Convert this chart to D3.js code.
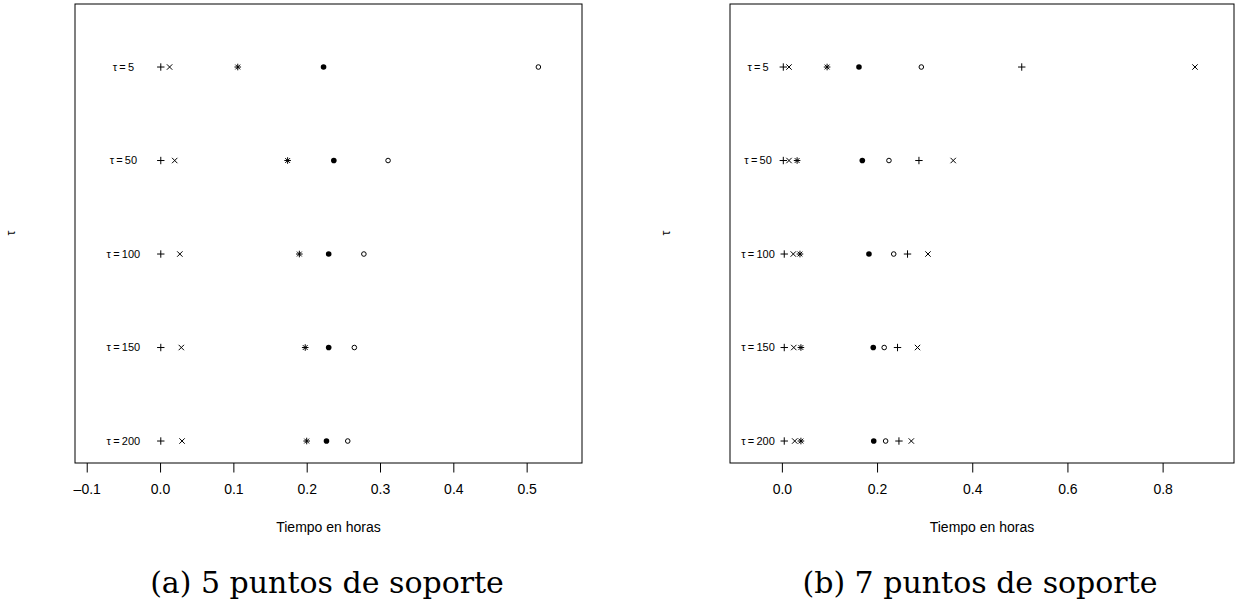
<!DOCTYPE html>
<html lang="es">
<head>
<meta charset="UTF-8">
<title>Tiempo en horas</title>
<script src="https://cdn.jsdelivr.net/npm/d3@7"></script>
<style>
  body { margin: 0; background: #fff; }
  svg { display: block; }
</style>
</head>
<body>
<div class="d3"></div>
<script>
// rows, top to bottom
const tauValues = ['5', '50', '100', '150', '200']
const rowIndex = [5, 4, 3, 2, 1]

// (a) 5 puntos de soporte
const aPlus = [0.001, 0.001, 0.001, 0.001, 0.001]
const aCross = [0.013, 0.020, 0.027, 0.029, 0.030]
const aStar = [0.106, 0.174, 0.190, 0.198, 0.200]
const aDot = [0.223, 0.237, 0.230, 0.230, 0.227]
const aCircle = [0.516, 0.311, 0.278, 0.265, 0.256]
const aTicks = [-0.1, 0.0, 0.1, 0.2, 0.3, 0.4, 0.5]

// (b) 7 puntos de soporte
const bPlus = [0.003, 0.003, 0.005, 0.005, 0.005]
const bCross = [0.015, 0.015, 0.024, 0.025, 0.027]
const bStar = [0.095, 0.032, 0.038, 0.040, 0.040]
const bDot = [0.162, 0.169, 0.183, 0.192, 0.193]
const bCircle = [0.293, 0.225, 0.235, 0.215, 0.218]
const bPlus2 = [0.504, 0.288, 0.264, 0.243, 0.246]
const bCross2 = [0.868, 0.360, 0.307, 0.285, 0.272]
const bTicks = [0.0, 0.2, 0.4, 0.6, 0.8]

const LABEL_X = -0.05

function visualize() {
  const W = 1238, H = 607
  const svg = d3.select('.d3').append('svg')
    .attr('width', W)
    .attr('height', H)
    .style('font-family', '"Liberation Sans", Arial, sans-serif')

  svg.append('rect').attr('width', W).attr('height', H).attr('fill', '#fff')

  const BOX_TOP = 4, BOX_BOTTOM = 463

  // symbol drawers (R pch look-alikes)
  const sym = {
    plus: (g, x, y) => g.append('path')
      .attr('d', `M${x - 3.7},${y}H${x + 3.7}M${x},${y - 3.7}V${y + 3.7}`)
      .attr('stroke', '#000').attr('stroke-width', 1),
    cross: (g, x, y) => g.append('path')
      .attr('d', `M${x - 2.7},${y - 2.7}L${x + 2.7},${y + 2.7}M${x - 2.7},${y + 2.7}L${x + 2.7},${y - 2.7}`)
      .attr('stroke', '#000').attr('stroke-width', 1),
    star: (g, x, y) => g.append('path')
      .attr('d', `M${x - 3.3},${y}H${x + 3.3}M${x},${y - 3.3}V${y + 3.3}` +
        `M${x - 2.4},${y - 2.4}L${x + 2.4},${y + 2.4}M${x - 2.4},${y + 2.4}L${x + 2.4},${y - 2.4}`)
      .attr('stroke', '#000').attr('stroke-width', 1),
    dot: (g, x, y) => g.append('circle')
      .attr('cx', x).attr('cy', y).attr('r', 2.8).attr('fill', '#000'),
    circle: (g, x, y) => g.append('circle')
      .attr('cx', x).attr('cy', y).attr('r', 2.3)
      .attr('fill', 'none').attr('stroke', '#000').attr('stroke-width', 1)
  }

  function panel(opts) {
    const x = d3.scaleLinear().domain(opts.xlim).range([opts.left, opts.right])
    const y = d3.scaleLinear().domain([0.765, 5.674]).range([BOX_BOTTOM, BOX_TOP])
    const g = svg.append('g')

    // box
    g.append('rect')
      .attr('x', opts.left).attr('y', BOX_TOP)
      .attr('width', opts.right - opts.left).attr('height', BOX_BOTTOM - BOX_TOP)
      .attr('fill', 'none').attr('stroke', '#000').attr('stroke-width', 1)

    // bottom axis
    const axis = d3.axisBottom(x)
      .tickValues(opts.ticks)
      .tickSize(9.5)
      .tickPadding(12)
      .tickFormat(d3.format('.1f'))
    const ax = g.append('g')
      .attr('transform', `translate(0,${BOX_BOTTOM})`)
      .call(axis)
    ax.select('.domain').remove()
    ax.selectAll('text')
      .style('font-family', '"Liberation Sans", Arial, sans-serif')
      .style('font-size', '14px')
      .text(d => d < 0 ? '\u2013' + Math.abs(d).toFixed(1) : d.toFixed(1))

    // axis titles
    g.append('text')
      .attr('x', (opts.left + opts.right) / 2).attr('y', 532)
      .attr('text-anchor', 'middle').style('font-size', '14px')
      .text('Tiempo en horas')
    g.append('text')
      .attr('transform', `translate(${opts.left - 60},233) rotate(-90)`)
      .attr('text-anchor', 'middle').style('font-size', '12px')
      .text('\u03c4')

    // row labels
    tauValues.forEach((t, i) => {
      g.append('text')
        .attr('x', x(LABEL_X)).attr('y', y(rowIndex[i]) + 3.8)
        .attr('text-anchor', 'middle').style('font-size', '11px')
        .text('\u03c4\u2009=\u2009' + t)
    })

    // points
    opts.series.forEach(s => {
      s.values.forEach((v, i) => sym[s.shape](g, x(v), y(rowIndex[i])))
    })

    // caption
    svg.append('text')
      .attr('x', opts.captionX).attr('y', 593)
      .attr('text-anchor', 'middle')
      .style('font-family', '"DejaVu Serif", serif')
      .style('font-size', '30px')
      .text(opts.caption)
  }

  panel({
    left: 75, right: 582, xlim: [-0.116, 0.5755], ticks: aTicks,
    captionX: 327, caption: '(a) 5 puntos de soporte',
    series: [
      { shape: 'plus', values: aPlus },
      { shape: 'cross', values: aCross },
      { shape: 'star', values: aStar },
      { shape: 'dot', values: aDot },
      { shape: 'circle', values: aCircle }
    ]
  })

  panel({
    left: 730, right: 1234, xlim: [-0.109, 0.950], ticks: bTicks,
    captionX: 980, caption: '(b) 7 puntos de soporte',
    series: [
      { shape: 'plus', values: bPlus },
      { shape: 'cross', values: bCross },
      { shape: 'star', values: bStar },
      { shape: 'dot', values: bDot },
      { shape: 'circle', values: bCircle },
      { shape: 'plus', values: bPlus2 },
      { shape: 'cross', values: bCross2 }
    ]
  })
}

window.onload = visualize
</script>
</body>
</html>
